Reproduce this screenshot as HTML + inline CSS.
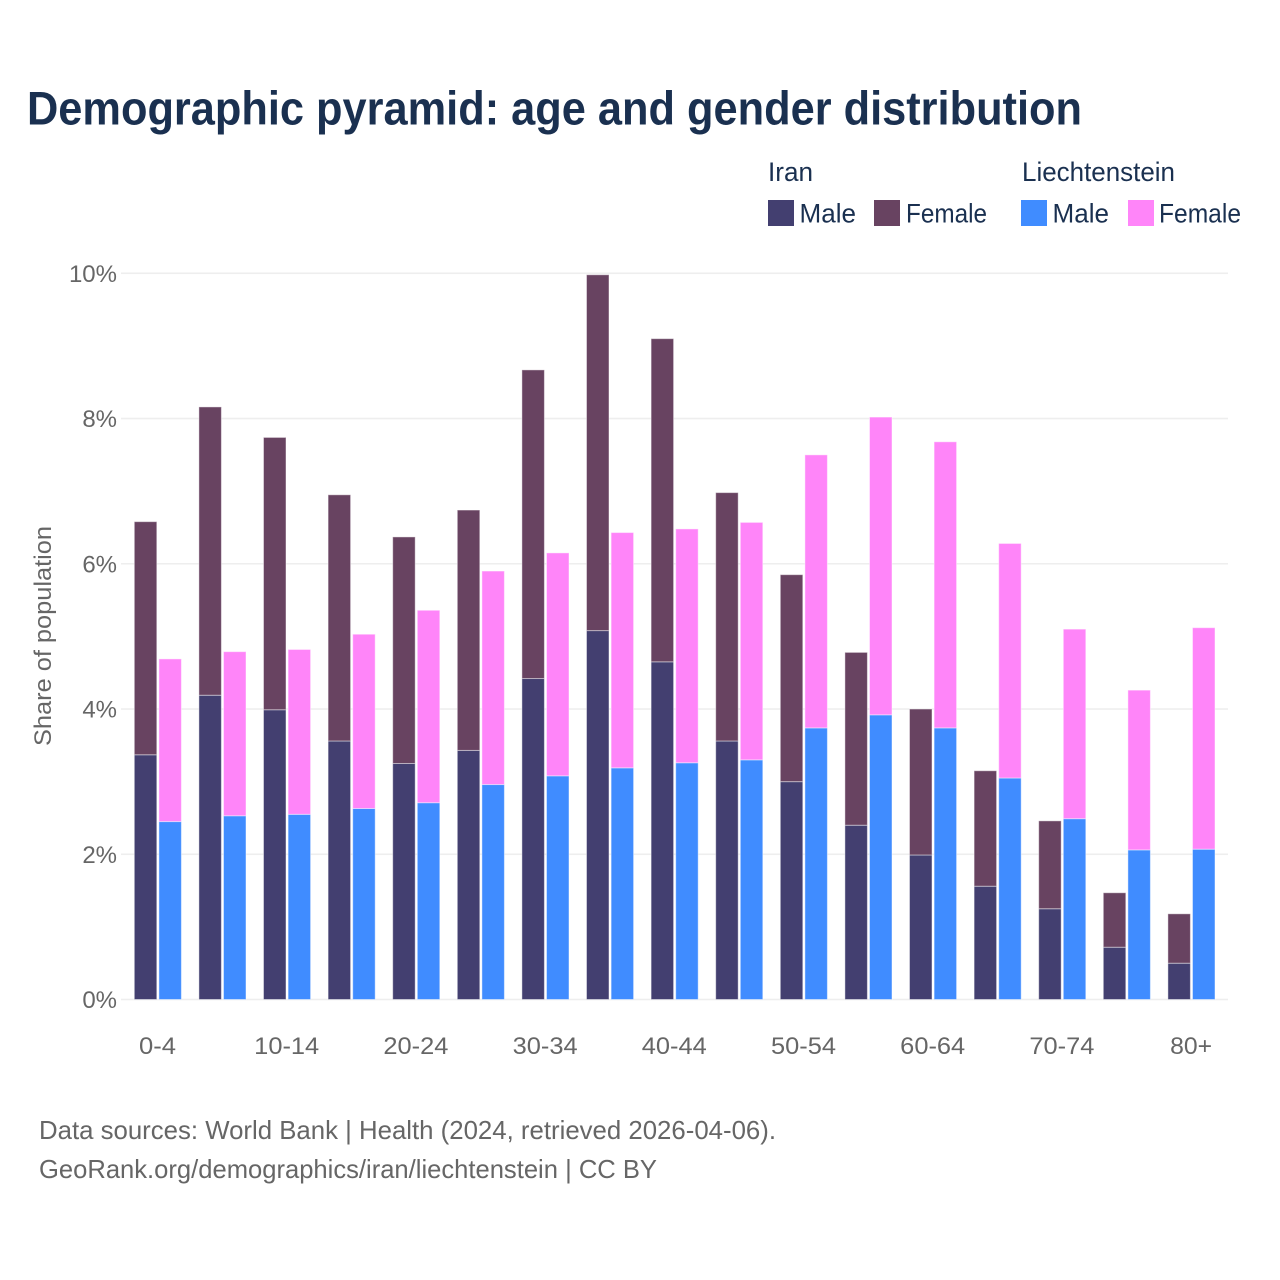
<!DOCTYPE html>
<html lang="en">
<head>
<meta charset="utf-8">
<title>Demographic pyramid</title>
<style>
html,body{margin:0;padding:0;background:#fff;}
svg{display:block;font-family:"Liberation Sans",sans-serif;}
</style>
</head>
<body>
<svg id="chart" width="1280" height="1280" viewBox="0 0 1280 1280" xmlns="http://www.w3.org/2000/svg">
  <rect width="1280" height="1280" fill="#ffffff"/>
  <text x="27" y="124.5" font-size="47" font-weight="700" fill="#1a3050" textLength="1055" lengthAdjust="spacingAndGlyphs">Demographic pyramid: age and gender distribution</text>

  <g font-size="26.5" fill="#1a3050">
    <text x="768" y="181" textLength="45" lengthAdjust="spacingAndGlyphs">Iran</text>
    <text x="1022" y="181" textLength="153" lengthAdjust="spacingAndGlyphs">Liechtenstein</text>
    <rect x="768" y="200" width="26" height="26" fill="#433f70"/>
    <text x="799.5" y="222.5" textLength="56.5" lengthAdjust="spacingAndGlyphs">Male</text>
    <rect x="874" y="200" width="26" height="26" fill="#684361"/>
    <text x="906" y="222.5" textLength="81" lengthAdjust="spacingAndGlyphs">Female</text>
    <rect x="1021" y="200" width="26" height="26" fill="#408cff"/>
    <text x="1052.5" y="222.5" textLength="56.5" lengthAdjust="spacingAndGlyphs">Male</text>
    <rect x="1128" y="200" width="26" height="26" fill="#ff85f9"/>
    <text x="1159" y="222.5" textLength="82" lengthAdjust="spacingAndGlyphs">Female</text>
  </g>

  <g id="grid"></g>
  <g id="bars"></g>
  <g id="yticks"></g>
  <g id="xticks"></g>

  <text transform="translate(51,636) rotate(-90)" text-anchor="middle" font-size="24" fill="#666666" textLength="220" lengthAdjust="spacingAndGlyphs">Share of population</text>

  <text x="39" y="1139" font-size="26" fill="#666666" textLength="737" lengthAdjust="spacingAndGlyphs">Data sources: World Bank | Health (2024, retrieved 2026-04-06).</text>
  <text x="39" y="1178" font-size="26" fill="#666666" textLength="618" lengthAdjust="spacingAndGlyphs">GeoRank.org/demographics/iran/liechtenstein | CC BY</text>
</svg>
<script>
const categories = ["0-4","5-9","10-14","15-19","20-24","25-29","30-34","35-39","40-44","45-49","50-54","55-59","60-64","65-69","70-74","75-79","80+"];
const iranMale = [3.37,4.19,3.99,3.56,3.25,3.43,4.42,5.08,4.65,3.56,3.00,2.40,1.99,1.56,1.25,0.72,0.50];
const iranFemale = [3.21,3.97,3.75,3.39,3.12,3.31,4.25,4.90,4.45,3.42,2.85,2.38,2.01,1.59,1.21,0.75,0.68];
const liechtensteinMale = [2.45,2.53,2.55,2.63,2.71,2.96,3.08,3.19,3.26,3.30,3.74,3.92,3.74,3.05,2.49,2.06,2.07];
const liechtensteinFemale = [2.24,2.26,2.27,2.40,2.65,2.94,3.07,3.24,3.22,3.27,3.76,4.10,3.94,3.23,2.61,2.20,3.05];
const yTicks = [0,2,4,6,8,10];
const xTickLabels = ["0-4","10-14","20-24","30-34","40-44","50-54","60-64","70-74","80+"];

const NS = 'http://www.w3.org/2000/svg';
const yScale = v => 999.5 - v * 72.62;
const xBand = i => 158 + i * 64.6;
const barWidth = 22.5;
const barOffsetIran = -23.7;
const barOffsetLiechtenstein = 0.9;
const labelWidth = text => [...text].reduce((sum, ch) => sum + (ch === '-' ? 9 : 14), 0);

const gridGroup = document.getElementById('grid');
const barGroup = document.getElementById('bars');
const yTickGroup = document.getElementById('yticks');
const xTickGroup = document.getElementById('xticks');

function makeNode(tag, attrs, parent) {
  const node = document.createElementNS(NS, tag);
  for (const key in attrs) node.setAttribute(key, attrs[key]);
  parent.appendChild(node);
  return node;
}

yTicks.forEach(t => {
  const line = makeNode('rect', {x: 121, y: yScale(t) - 0.8, width: 1107, height: 1.6, fill: '#eeeeee'}, gridGroup);
  
  
  const label = makeNode('text', {x: 117, y: yScale(t) + 8.5, 'text-anchor': 'end', 'font-size': 24, fill: '#666666'}, yTickGroup);
  label.textContent = t + '%';
  
  
});

function drawBar(i, offset, base, value, color, name) {
  const top = yScale(base + value);
  const bottom = yScale(base);
  const bar = makeNode('rect', {
    x: xBand(i) + offset,
    y: top,
    width: barWidth,
    height: bottom - top,
    fill: color,
    stroke: 'rgba(255,255,255,0.45)',
    'stroke-width': 1
  }, barGroup);
  
  
}

categories.forEach((c, i) => {
  drawBar(i, barOffsetIran, 0, iranMale[i], '#433f70', 'bar-iran-male');
  drawBar(i, barOffsetIran, iranMale[i], iranFemale[i], '#684361', 'bar-iran-female');
  drawBar(i, barOffsetLiechtenstein, 0, liechtensteinMale[i], '#408cff', 'bar-liechtenstein-male');
  drawBar(i, barOffsetLiechtenstein, liechtensteinMale[i], liechtensteinFemale[i], '#ff85f9', 'bar-liechtenstein-female');
});

xTickLabels.forEach(labelText => {
  const i = categories.indexOf(labelText);
  const label = makeNode('text', {
    x: xBand(i) - 0.5,
    y: 1054,
    'text-anchor': 'middle',
    'font-size': 24,
    fill: '#666666',
    textLength: labelWidth(labelText),
    lengthAdjust: 'spacingAndGlyphs'
  }, xTickGroup);
  label.textContent = labelText;
  
  
});
</script>
</body>
</html>
